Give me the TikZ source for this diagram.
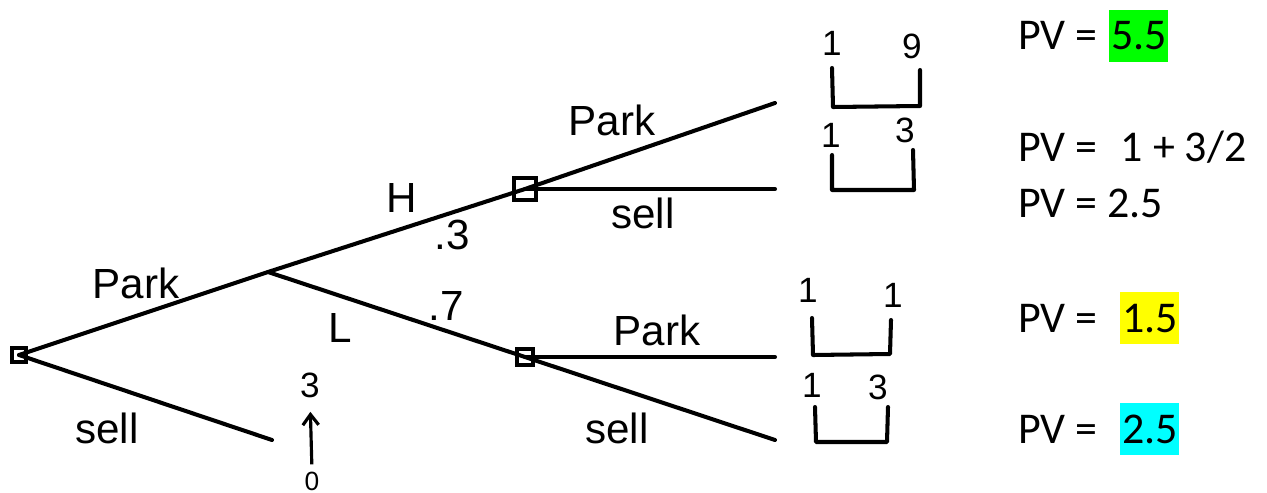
\documentclass[tikz,border=0pt]{standalone}
\usepackage{fontspec}
\newfontfamily\pvfont{Carlito}
\newfontfamily\handfont{Liberation Sans}
\usetikzlibrary{arrows.meta, positioning}

\definecolor{hlgreen}{RGB}{0,255,0}
\definecolor{hlyellow}{RGB}{255,255,0}
\definecolor{hlcyan}{RGB}{0,255,255}

\begin{document}
\begin{tikzpicture}[
        x=0.02cm, y=-0.02cm,
        branch/.style={line width=2.3pt, line cap=round, line join=round},
        decision/.style={draw, line width=2pt, rectangle, minimum size=#1, inner sep=0pt},
        hand/.style={font=\handfont\fontsize{24}{24}\selectfont, inner sep=0pt},
        payoff/.style={font=\handfont\fontsize{20}{20}\selectfont, inner sep=0pt},
        pv/.style={font=\pvfont\fontsize{25}{25}\selectfont, anchor=base west, inner sep=0pt},
        pvval/.style={pv, inner xsep=1pt, text height=22.8pt, text depth=6.8pt}
    ]
    \useasboundingbox (0,0) rectangle (1267,493);

% ---------- tree ----------
    \node[decision=0.28cm] (root) at (19,355) {};
    \coordinate (chance) at (268,272);
    \node[decision=0.44cm] (sqH) at (525,189) {};
    \node[decision=0.32cm] (sqL) at (525,357) {};
    \coordinate (endHP) at (775,103);
    \coordinate (endHS) at (775,189);
    \coordinate (endLP) at (775,357);
    \coordinate (endLS) at (775,440);
    \coordinate (endS) at (272,440);

    \draw[branch] (root.center) -- (chance) -- (sqH.center) -- (endHP);
    \draw[branch] (root.center) -- (endS);
    \draw[branch] (chance) -- (sqL.center) -- (endLS);
    \draw[branch] (sqH.center) -- (endHS);
    \draw[branch] (sqL.center) -- (endLP);

    % branch labels
    \node[hand] (lPark) at (136,283) {Park};
    \node[hand] (lSell) at (107,428) {sell};
    \node[hand] (lH) at (402,198) {H};
    \node[hand] (pH) at (452,235) {.3};
    \node[hand] (lL) at (340,328) {L};
    \node[hand] (pL) at (446,306) {.7};
    \node[hand] (lHPark) at (612,120) {Park};
    \node[hand] (lHSell) at (643,213) {sell};
    \node[hand] (lLPark) at (657,330) {Park};
    \node[hand] (lLSell) at (617,428) {sell};

    % sell now: 3 from 0
    \node[hand, font=\handfont\fontsize{20}{20}\selectfont] (three) at (310,385) {3};
    \node[hand, font=\handfont\fontsize{15}{15}\selectfont] (zero) at (312,481) {0};
    \draw[-{Straight Barb[length=6pt, width=9pt]}, line width=1.8pt, shorten <=4pt, shorten >=8pt]
        (zero.north) -- (three.south);

% ---------- payoffs ----------
    \draw[branch] (832,68) -- (833,107) -- (920,106) -- (920,70);
    \node[payoff] (a1) at (832,43) {1};
    \node[payoff] (a2) at (912,46) {9};

    \draw[branch] (832,155) -- (832,190) -- (914,190) -- (913,150);
    \node[payoff] (b1) at (831,135) {1};
    \node[payoff] (b2) at (905,130) {3};

    \draw[branch] (812,318) -- (813,355) -- (890,354) -- (891,320);
    \node[payoff] (c1) at (808,290) {1};
    \node[payoff] (c2) at (893,295) {1};

    \draw[branch] (815,407) -- (816,442) -- (887,442) -- (888,407);
    \node[payoff] (d1) at (812,385) {1};
    \node[payoff] (d2) at (878,387) {3};

% ---------- present values ----------
    \node[pv] (pv1) at (1018,50) {PV =};
    \node[pvval, fill=hlgreen] (v1) at (1109,50) {5.5};
    \node[pv] (pv2) at (1018,162) {PV = \ \kern2pt 1 + 3/2};
    \node[pv] (pv3) at (1018,217) {PV = 2.5};
    \node[pv] (pv4) at (1018,332) {PV =};
    \node[pvval, fill=hlyellow] (v4) at (1120,332) {1.5};
    \node[pv] (pv5) at (1018,443) {PV =};
    \node[pvval, fill=hlcyan] (v5) at (1120,443) {2.5};

\end{tikzpicture}
\end{document}
